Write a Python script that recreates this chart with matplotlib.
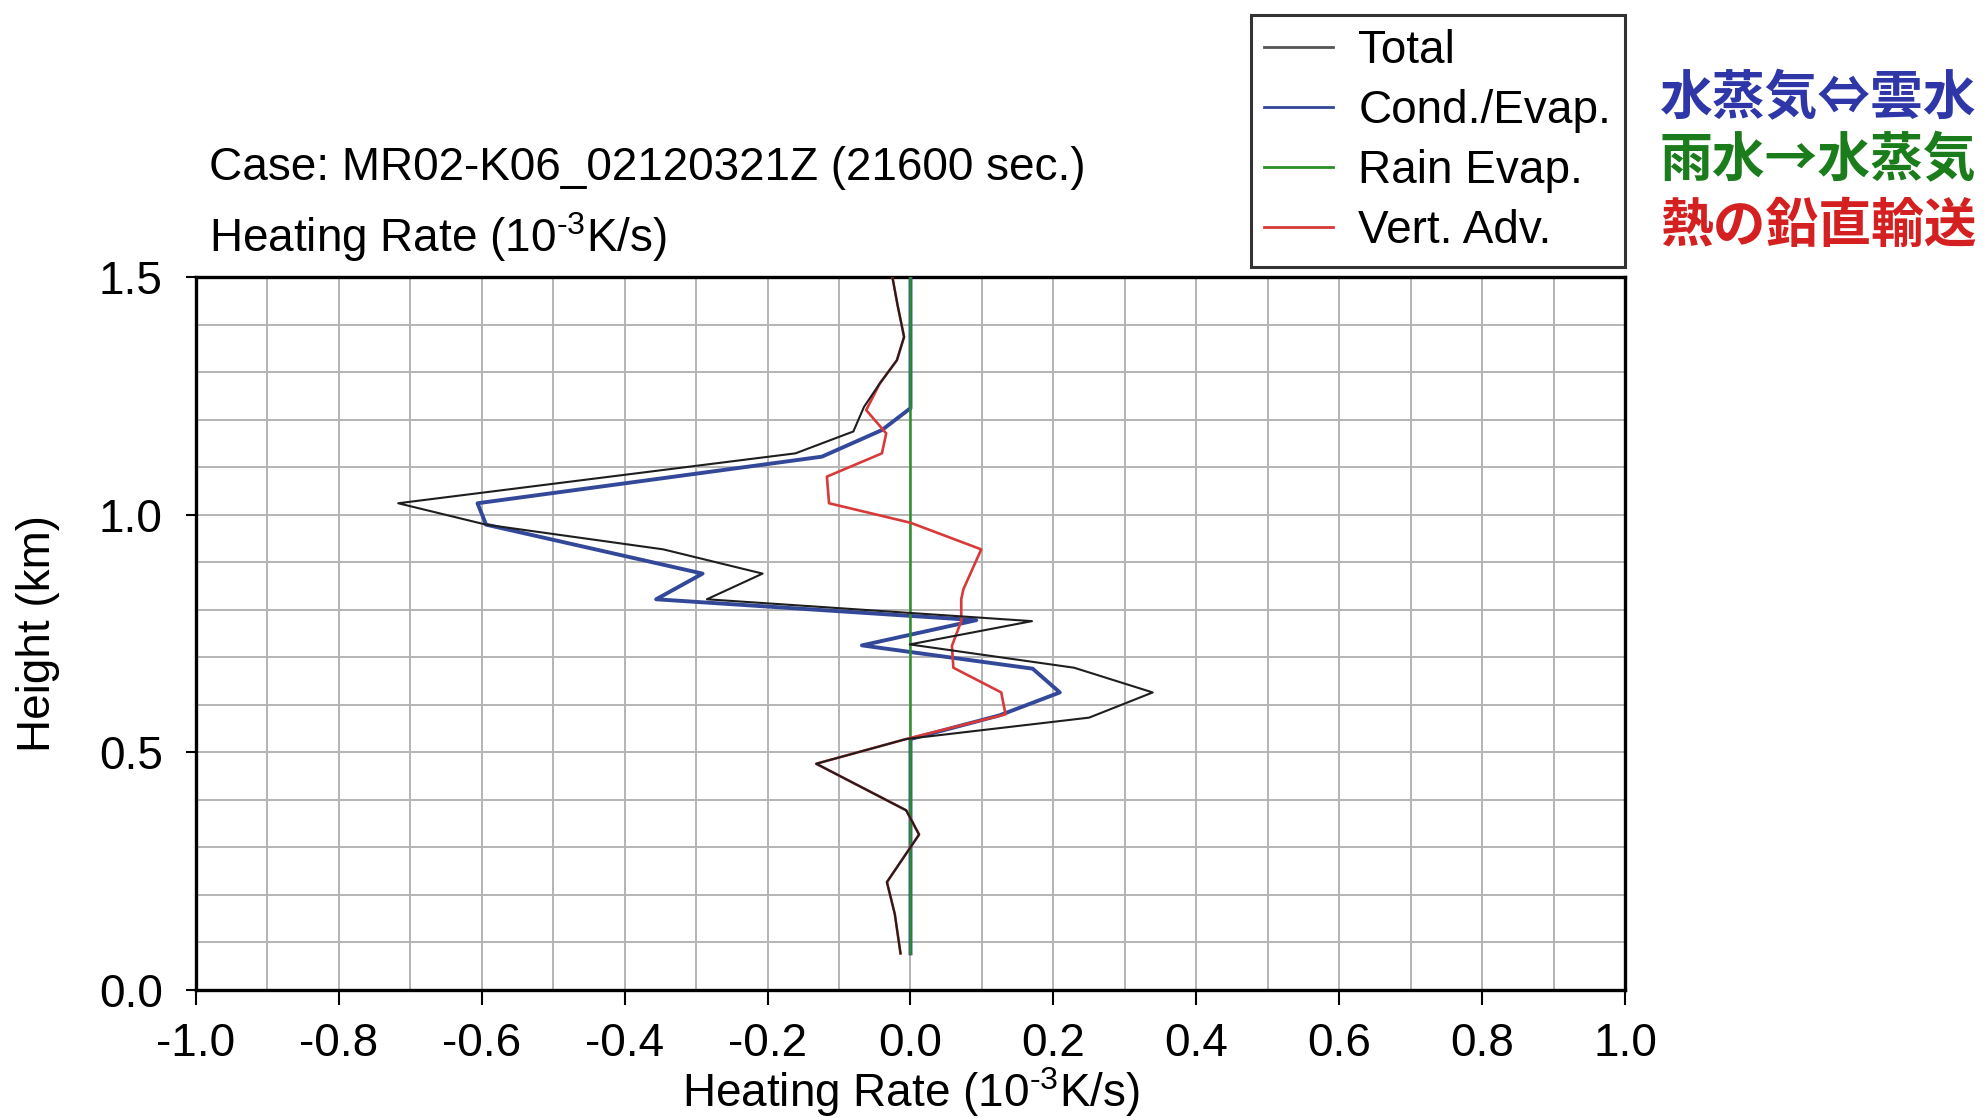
import numpy as np
import matplotlib
matplotlib.use("Agg")
import matplotlib.pyplot as plt

plt.rcParams['font.family'] = ['Liberation Sans', 'DejaVu Sans']
plt.rcParams['mathtext.fontset'] = 'custom'
plt.rcParams['mathtext.rm'] = 'Liberation Sans'
plt.rcParams['mathtext.it'] = 'Liberation Sans:italic'
plt.rcParams['axes.unicode_minus'] = False

# ---- data ----
total_z = [0.077, 0.16, 0.227, 0.327, 0.378, 0.476, 0.528, 0.573, 0.626, 0.678, 0.727,
           0.776, 0.822, 0.876, 0.927, 0.979, 1.024, 1.129, 1.175, 1.227, 1.276, 1.325,
           1.374, 1.44, 1.497]
total_x = [-0.014, -0.022, -0.033, 0.012, -0.006, -0.132, -0.006, 0.250, 0.339, 0.229, -0.001,
           0.170, -0.285, -0.207, -0.346, -0.594, -0.717, -0.161, -0.080, -0.065, -0.043, -0.019,
           -0.009, -0.018, -0.025]

cond_z = [0.077, 0.528, 0.578, 0.626, 0.676, 0.725, 0.778, 0.822, 0.876, 0.979, 1.024,
          1.122, 1.178, 1.224, 1.5]
cond_x = [0.0, 0.0, 0.125, 0.209, 0.171, -0.068, 0.092, -0.356, -0.291, -0.594, -0.606,
          -0.124, -0.040, 0.0, 0.0]

rain_z = [0.077, 1.5]
rain_x = [0.0, 0.0]

adv_z = [0.077, 0.16, 0.227, 0.327, 0.378, 0.476, 0.528, 0.580, 0.626, 0.678, 0.724,
         0.776, 0.822, 0.843, 0.927, 0.983, 1.024, 1.080, 1.129, 1.171, 1.220, 1.276,
         1.325, 1.374, 1.44, 1.497]
adv_x = [-0.014, -0.022, -0.033, 0.012, -0.006, -0.132, -0.006, 0.133, 0.127, 0.060, 0.058,
         0.071, 0.071, 0.074, 0.099, 0.0, -0.114, -0.117, -0.040, -0.034, -0.062, -0.043,
         -0.019, -0.009, -0.018, -0.025]

series_labels = ['Total', 'Cond./Evap.', 'Rain Evap.', 'Vert. Adv.']
jp_labels = ['水蒸気⇔雲水', '雨水→水蒸気', '熱の鉛直輸送']
x_ticks = [-1.0, -0.8, -0.6, -0.4, -0.2, 0.0, 0.2, 0.4, 0.6, 0.8, 1.0]
y_ticks = [0.0, 0.5, 1.0, 1.5]
unit_label = 'Heating Rate (10$^{\\mathrm{\u20103}}$K/s)'

# ---- figure ----
W, H = 1987, 1118
FS = 33
fig = plt.figure(figsize=(W / 100, H / 100), dpi=100)
ax = fig.add_axes([196 / W, 1 - 990 / H, (1625 - 196) / W, (990 - 277) / H])

c_total = '#1e1e1e'
c_cond = '#34489a'
c_rain = '#2a8f2a'
c_adv = '#d83a3a'

l_cond, = ax.plot(cond_x, cond_z, color=c_cond, lw=2.8, zorder=3)
l_rain, = ax.plot(rain_x, rain_z, color=c_rain, lw=1.8, zorder=4)
l_adv, = ax.plot(adv_x, adv_z, color=c_adv, lw=1.9, zorder=5)
l_total, = ax.plot(total_x, total_z, color=c_total, lw=1.5, zorder=6)

ax.set_xlim(-1.0, 1.0)
ax.set_ylim(0.0, 1.5)
ax.set_xticks(x_ticks)
ax.set_xticklabels([f"{v:.1f}" for v in x_ticks])
ax.set_yticks(y_ticks)
ax.set_yticklabels([f"{v:.1f}" for v in y_ticks])
ax.set_xticks(np.round(np.arange(-1.0, 1.0001, 0.1), 2), minor=True)
ax.set_yticks(np.round(np.arange(0.0, 1.5001, 0.1), 2), minor=True)
ax.tick_params(axis='both', which='minor', length=0)
ax.tick_params(axis='x', which='major', direction='out', length=11, width=1.5,
               labelsize=FS, pad=12)
ax.tick_params(axis='y', which='major', direction='out', length=7, width=1.5,
               labelsize=FS, pad=17)
ax.grid(True, which='both', color='#b4b4b4', lw=1.4)
ax.set_axisbelow(True)
for s in ax.spines.values():
    s.set_linewidth(2.4)

ax.set_xlabel(unit_label, fontsize=FS)
ax.set_ylabel('Height (km)', fontsize=FS)
ax.xaxis.set_label_coords(0.5, (990 - 1092) / 713)
ax.xaxis.label.set_va('center')
ax.yaxis.set_label_coords((38 - 196) / 1429, 0.5)
ax.yaxis.label.set_va('center')
ax.yaxis.label.set_ha('center')

fig.text(209 / W, 1 - 168 / H, 'Case: MR02-K06_02120321Z (21600 sec.)',
         fontsize=FS, ha='left', va='center')
fig.text(209 / W, 1 - 237 / H, unit_label,
         fontsize=FS, ha='left', va='center')

leg = fig.legend([l_total, l_cond, l_rain, l_adv], series_labels,
                 loc='upper right', bbox_to_anchor=(1625 / W, 1 - 15 / H),
                 fontsize=FS, frameon=True, fancybox=False, handlelength=1.5,
                 handletextpad=0.55, labelspacing=0.35, borderpad=0.3,
                 borderaxespad=0.0)
leg.get_frame().set_edgecolor('black')
leg.get_frame().set_linewidth(2.2)
for h, c in zip(leg.get_lines(), ['#555555', c_cond, c_rain, c_adv]):
    h.set_color(c)
    h.set_linewidth(2.0)

jp_colors = ['#2e36a8', '#1b7c1b', '#d42020']
jp_y = [99, 161, 226]
for t, c, yy in zip(jp_labels, jp_colors, jp_y):
    fig.text(1660 / W, 1 - yy / H, t, fontsize=38, fontweight='bold', color=c,
             ha='left', va='center', family=['Noto Sans CJK JP', 'DejaVu Sans'])

fig.savefig('out.png', dpi=100)
